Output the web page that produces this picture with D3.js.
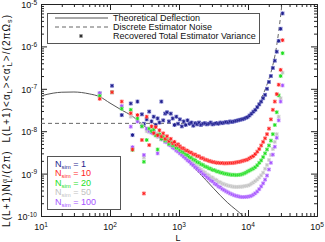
<!DOCTYPE html>
<html>
<head>
<meta charset="utf-8">
<script src="https://cdn.jsdelivr.net/npm/d3@7"></script>
<style>
  body { margin: 0; background: #fff; }
  text { font-family: "Liberation Sans", Arial, sans-serif; }
</style>
</head>
<body>
<div id="chart"></div>
<script>

// set the dimensions and margins of the graph
const MARGIN = {top: 4, right: 8, bottom: 26, left: 41},
    WIDTH = 325 - MARGIN.left - MARGIN.right,
    HEIGHT = 242 - MARGIN.top - MARGIN.bottom;

// multipole bins shared by all the recovered spectra
const L_BINS = [
  71, 107, 148, 200, 212, 250, 290, 310, 340, 370,
  400, 430, 460, 490, 520, 555, 590, 630, 670, 715,
  760, 810, 860, 915, 970, 1030, 1100, 1170, 1250, 1330,
  1420, 1510, 1610, 1720, 1830, 1950, 2080, 2220, 2370, 2530,
  2700, 2880, 3070, 3280, 3500, 3730, 3980, 4250, 4530, 4830,
  5150, 5500, 5870, 6260, 6680, 7130, 7610, 8120, 8660, 9240,
  9860, 10520, 11230, 11980, 12780, 13640, 14550, 15530, 16570, 17680,
  18870, 20130, 21480, 22920, 24460, 26100, 27850, 29710, 31700];

const N1 = [
  7.8e-8, 1.18e-7, 2.4e-8, 4.5e-8, 8.1e-9, 5.0e-8, 2.5e-8, 1.5e-8, 1.9e-8, 2.9e-8,
  1.7e-8, 2.2e-8, 1.4e-8, 2.0e-8, 1.6e-8, 5.0e-8, 1.8e-8, 2.6e-8, 2.8e-8, 1.7e-8,
  2.6e-8, 2.0e-8, 1.4e-8, 2.2e-8, 1.5e-8, 1.9e-8, 1.3e-8, 1.7e-8, 1.4e-8, 1.8e-8,
  1.5e-8, 1.6e-8, 1.35e-8, 1.55e-8, 1.45e-8, 1.6e-8, 1.4e-8, 1.5e-8, 1.55e-8, 1.45e-8,
  1.5e-8, 1.6e-8, 1.45e-8, 1.5e-8, 1.55e-8, 1.5e-8, 1.6e-8, 1.55e-8, 1.6e-8, 1.65e-8,
  1.6e-8, 1.7e-8, 1.65e-8, 1.7e-8, 1.75e-8, 1.8e-8, 1.85e-8, 1.9e-8, 1.95e-8, 2.05e-8,
  2.15e-8, 2.35e-8, 2.6e-8, 2.9e-8, 3.2e-8, 3.7e-8, 4.3e-8, 5.0e-8, 6.0e-8, 7.2e-8,
  1.0e-7, 1.45e-7, 2.0e-7, 3.1e-7, 4.6e-7, 7.5e-7, 1.35e-6, 2.6e-6, 6.0e-6];

const N10 = [
  5.8e-8, 8.3e-8, 5.0e-8, 2.65e-8, 3.7e-9, 2.4e-8, 6.2e-9, 3.4e-10, 2.2e-8, 4.7e-9,
  1.3e-8, 9.0e-9, 1.25e-8, 8.0e-9, 1.05e-8, 7.5e-9, 8.9e-9, 6.6e-9, 7.6e-9, 5.8e-9,
  6.6e-9, 5.2e-9, 5.6e-9, 4.7e-9, 4.9e-9, 4.4e-9, 4.0e-9, 3.9e-9, 3.55e-9, 3.45e-9,
  3.2e-9, 3.1e-9, 2.85e-9, 2.8e-9, 2.6e-9, 2.55e-9, 2.35e-9, 2.3e-9, 2.15e-9, 2.1e-9,
  2.0e-9, 1.95e-9, 1.88e-9, 1.85e-9, 1.8e-9, 1.8e-9, 1.76e-9, 1.78e-9, 1.74e-9, 1.76e-9,
  1.75e-9, 1.78e-9, 1.77e-9, 1.8e-9, 1.83e-9, 1.87e-9, 1.9e-9, 1.96e-9, 2.02e-9, 2.08e-9,
  2.15e-9, 2.3e-9, 2.45e-9, 2.6e-9, 2.9e-9, 3.3e-9, 3.8e-9, 4.6e-9, 5.6e-9, 6.8e-9,
  8.5e-9, 1.15e-8, 1.9e-8, 3.2e-8, 5.0e-8, 7.5e-8, 1.25e-7, 2.8e-7, 1.4e-6];

const N20 = [
  6.8e-8, 8.3e-8, 3.4e-8, 3.2e-8, 3.6e-9, 2.0e-8, 1.3e-8, 1.9e-9, 6.2e-9, 1.15e-8,
  1.0e-8, 1.1e-8, 8.0e-9, 3.7e-9, 8.5e-9, 6.6e-9, 7.4e-9, 6.0e-9, 6.3e-9, 5.0e-9,
  5.5e-9, 4.6e-9, 4.6e-9, 4.0e-9, 4.0e-9, 3.6e-9, 3.3e-9, 3.15e-9, 2.85e-9, 2.7e-9,
  2.45e-9, 2.35e-9, 2.15e-9, 2.05e-9, 1.88e-9, 1.8e-9, 1.66e-9, 1.6e-9, 1.48e-9, 1.43e-9,
  1.34e-9, 1.3e-9, 1.22e-9, 1.2e-9, 1.13e-9, 1.11e-9, 1.06e-9, 1.04e-9, 1.0e-9, 0.99e-9,
  0.96e-9, 0.95e-9, 0.93e-9, 0.94e-9, 0.92e-9, 0.93e-9, 0.94e-9, 0.96e-9, 1.0e-9, 1.05e-9,
  1.12e-9, 1.18e-9, 1.25e-9, 1.32e-9, 1.42e-9, 1.58e-9, 1.8e-9, 2.05e-9, 2.45e-9, 3.0e-9,
  3.7e-9, 4.6e-9, 6.0e-9, 8.5e-9, 1.4e-8, 2.8e-8, 7.0e-8, 2.0e-7, 6.9e-7];

const N50 = [
  6.8e-8, 8.3e-8, 3.9e-8, 2.2e-8, 4.0e-9, 1.9e-8, 1.4e-8, 2.4e-9, 1.0e-8, 9.5e-9,
  1.05e-8, 8.6e-9, 8.9e-9, 7.3e-9, 7.8e-9, 6.6e-9, 6.4e-9, 5.9e-9, 5.5e-9, 5.0e-9,
  4.8e-9, 4.3e-9, 4.1e-9, 3.7e-9, 3.5e-9, 3.2e-9, 2.95e-9, 2.65e-9, 2.45e-9, 2.2e-9,
  2.05e-9, 1.85e-9, 1.72e-9, 1.56e-9, 1.46e-9, 1.33e-9, 1.24e-9, 1.13e-9, 1.06e-9, 9.6e-10,
  9.1e-10, 8.3e-10, 8.0e-10, 7.3e-10, 7.0e-10, 6.4e-10, 6.2e-10, 5.8e-10, 5.6e-10, 5.4e-10,
  5.2e-10, 5.1e-10, 4.95e-10, 4.9e-10, 4.85e-10, 4.85e-10, 4.9e-10, 4.9e-10, 5.0e-10, 5.1e-10,
  5.2e-10, 5.4e-10, 5.8e-10, 6.2e-10, 6.7e-10, 7.3e-10, 8.1e-10, 9.1e-10, 1.05e-9, 1.3e-9,
  1.6e-9, 2.1e-9, 2.75e-9, 3.8e-9, 5.6e-9, 8.5e-9, 2.2e-8, 6.0e-8, 2.4e-7];

const N100 = [
  7.8e-8, 8.3e-8, 3.9e-8, 1.28e-8, 4.2e-9, 1.7e-8, 1.3e-8, 2.75e-9, 1.15e-8, 1.0e-8,
  9.2e-9, 9.8e-9, 8.0e-9, 3.0e-9, 7.6e-9, 6.4e-9, 6.5e-9, 5.6e-9, 5.5e-9, 4.8e-9,
  4.6e-9, 4.1e-9, 3.9e-9, 3.5e-9, 3.3e-9, 3.0e-9, 2.75e-9, 2.5e-9, 2.28e-9, 2.05e-9,
  1.9e-9, 1.7e-9, 1.57e-9, 1.41e-9, 1.31e-9, 1.18e-9, 1.09e-9, 9.8e-10, 9.1e-10, 8.2e-10,
  7.6e-10, 6.9e-10, 6.5e-10, 5.8e-10, 5.45e-10, 4.95e-10, 4.7e-10, 4.3e-10, 4.05e-10, 3.8e-10,
  3.6e-10, 3.4e-10, 3.25e-10, 3.1e-10, 3.0e-10, 2.92e-10, 2.85e-10, 2.8e-10, 2.8e-10, 2.82e-10,
  2.85e-10, 2.9e-10, 3.0e-10, 3.2e-10, 3.45e-10, 3.8e-10, 4.3e-10, 5.0e-10, 5.9e-10, 7.2e-10,
  9.0e-10, 1.25e-9, 1.8e-9, 2.8e-9, 4.3e-9, 7.0e-9, 1.8e-8, 5.0e-8, 1.2e-7];

// theoretical deflection spectrum (solid line)
const THEORY_L = [10, 15, 20, 30, 50, 71, 100, 150, 200, 300, 500, 1000, 2000, 5000, 8500, 12000];
const THEORY_C = [6.8e-8, 7.9e-8, 8.3e-8, 8.4e-8, 7.6e-8, 6.5e-8, 4.6e-8, 3.1e-8, 2.4e-8, 1.4e-8,
                  7.4e-9, 3.1e-9, 1.0e-9, 2.1e-10, 1.0e-10, 5.6e-11];

// discrete estimator noise (dashed line)
const NOISE_L = [10, 3000, 6000, 8000, 10000, 13000, 16000, 19000, 22000, 25000, 28000, 31000, 33000];
const NOISE_C = [1.53e-8, 1.53e-8, 1.65e-8, 1.85e-8, 2.2e-8, 3.4e-8, 6.5e-8, 1.3e-7, 2.8e-7, 7e-7, 2.4e-6, 1.0e-5, 3e-5];

const X_TICKS = [1e1, 1e2, 1e3, 1e4, 1e5];
const X_EXP = ["1", "2", "3", "4", "5"];
const Y_TICKS = [1e-10, 1e-9, 1e-8, 1e-7, 1e-6, 1e-5];
const Y_EXP = ["-10", "-9", "-8", "-7", "-6", "-5"];

const SIMS = ["1", "10", "20", "50", "100"];
const SIM_COLORS = ["#1e1e8c", "#ff1f1f", "#1ee01e", "#c2c2c2", "#a552ff"];
const SIM_HALOS = ["#7a7ad0", "#ff9a9a", "#9af09a", "#e2e2e2", "#d6b0ff"];
const SIM_VALUES = [N1, N10, N20, N50, N100];
const DRAW_ORDER = [0, 3, 4, 2, 1];

const svg = d3.select("#chart")
  .append("svg")
    .attr("width", WIDTH + MARGIN.left + MARGIN.right)
    .attr("height", HEIGHT + MARGIN.top + MARGIN.bottom)
  .append("g")
    .attr("transform", "translate(" + MARGIN.left + "," + MARGIN.top + ")");

const x = d3.scaleLog().domain([10, 1e5]).range([0, WIDTH]);
const y = d3.scaleLog().domain([1e-10, 1e-5]).range([HEIGHT, 0]);

svg.append("clipPath").attr("id", "plotclip")
  .append("rect").attr("width", WIDTH).attr("height", HEIGHT);

// minor ticks at 2..9 of each decade
const minorOf = (lo, hi) => {
  const out = [];
  for (let p = lo; p < hi; p++) {
    for (let m = 2; m <= 9; m++) out.push(m * Math.pow(10, p));
  }
  return out;
};
const xMinor = minorOf(1, 5);
const yMinor = minorOf(-10, -5);

const axisColor = "#222";
function drawAxis(gen, transform) {
  const g = svg.append("g").attr("transform", transform).call(gen);
  g.selectAll("path, line").attr("stroke", axisColor);
  g.selectAll("text").remove();
  return g;
}
drawAxis(d3.axisBottom(x).tickValues(X_TICKS).tickSizeInner(-6).tickSizeOuter(0), "translate(0," + HEIGHT + ")");
drawAxis(d3.axisBottom(x).tickValues(xMinor).tickSizeInner(-3).tickSizeOuter(0), "translate(0," + HEIGHT + ")");
drawAxis(d3.axisTop(x).tickValues(X_TICKS).tickSizeInner(-6).tickSizeOuter(0), "translate(0,0)");
drawAxis(d3.axisTop(x).tickValues(xMinor).tickSizeInner(-3).tickSizeOuter(0), "translate(0,0)");
drawAxis(d3.axisLeft(y).tickValues(Y_TICKS).tickSizeInner(-6).tickSizeOuter(0), "translate(0,0)");
drawAxis(d3.axisLeft(y).tickValues(yMinor).tickSizeInner(-3).tickSizeOuter(0), "translate(0,0)");
drawAxis(d3.axisRight(y).tickValues(Y_TICKS).tickSizeInner(-6).tickSizeOuter(0), "translate(" + WIDTH + ",0)");
drawAxis(d3.axisRight(y).tickValues(yMinor).tickSizeInner(-3).tickSizeOuter(0), "translate(" + WIDTH + ",0)");

// text with super/subscripts
function rich(sel, parts, small) {
  let shift = 0;
  parts.forEach(p => {
    const target = p.s === "sup" ? -3.5 : (p.s === "sub" ? 2.2 : 0);
    const t = sel.append("tspan").attr("dy", target - shift).text(p.t);
    if (p.dx) t.attr("dx", p.dx);
    if (p.s) t.style("font-size", small + "px");
    shift = target;
  });
}

// tick labels
X_TICKS.forEach((v, i) => {
  const t = svg.append("text")
    .attr("x", x(v)).attr("y", HEIGHT + 14)
    .attr("text-anchor", "middle")
    .style("font-size", "9px").attr("fill", "#111");
  rich(t, [{t: "10"}, {t: X_EXP[i], s: "sup"}], 6.5);
});
Y_TICKS.forEach((v, i) => {
  const t = svg.append("text")
    .attr("x", -4).attr("y", y(v) + 4)
    .attr("text-anchor", "end")
    .style("font-size", "9px").attr("fill", "#111");
  rich(t, [{t: "10"}, {t: Y_EXP[i], s: "sup"}], 6.5);
});

// axis titles
svg.append("text")
  .attr("x", x(1000) - 1).attr("y", HEIGHT + 25)
  .attr("text-anchor", "middle")
  .style("font-size", "9px").attr("fill", "#111")
  .text("L");

const yTitle = svg.append("text")
  .attr("transform", "translate(" + (10 - MARGIN.left) + "," + (121 - MARGIN.top) + ") rotate(-90)")
  .attr("text-anchor", "middle")
  .attr("textLength", 212)
  .attr("lengthAdjust", "spacing")
  .style("font-size", "10px").attr("fill", "#111");
rich(yTitle, [
  {t: "L(L+1)N"}, {t: "α", s: "sup"}, {t: "L", s: "sub", dx: -4.5},
  {t: "/(2π)\u00a0\u00a0L(L+1)<α"}, {t: "L", s: "sub"}, {t: "><α"},
  {t: "*", s: "sup"}, {t: "L", s: "sub", dx: -2.5}, {t: ">/(2πΩ"}, {t: "s", s: "sub"}, {t: ")"}
], 7);

const plot = svg.append("g").attr("clip-path", "url(#plotclip)");

// theory and noise curves
const line = d3.line()
  .x(d => x(d[0]))
  .y(d => y(d[1]))
  .curve(d3.curveMonotoneX);

plot.append("path")
  .datum(NOISE_L.map((l, i) => [l, NOISE_C[i]]))
  .attr("d", line)
  .attr("fill", "none")
  .attr("stroke", "#666")
  .attr("stroke-width", 1)
  .attr("stroke-dasharray", "4,3");

plot.append("path")
  .datum(THEORY_L.map((l, i) => [l, THEORY_C[i]]))
  .attr("d", line)
  .attr("fill", "none")
  .attr("stroke", "#555")
  .attr("stroke-width", 1);

// recovered estimator variance points
const star = d3.symbol().type(d3.symbolAsterisk).size(8);

DRAW_ORDER.forEach(k => {
  const pts = L_BINS.map((l, i) => ({l: l, v: SIM_VALUES[k][i]}));
  const g = plot.append("g");
  const pt = g.selectAll(".pt")
    .data(pts)
    .join("g")
      .attr("class", "pt")
      .attr("transform", d => "translate(" + x(d.l) + "," + y(d.v) + ")");
  pt.append("rect")
    .attr("x", -2).attr("y", -2).attr("width", 4).attr("height", 4)
    .attr("fill", SIM_HALOS[k]).attr("opacity", 0.7);
  pt.append("path")
    .attr("d", star)
    .attr("fill", "none")
    .attr("stroke", SIM_COLORS[k])
    .attr("stroke-width", 1);
});

// legend: curves
const leg1 = svg.append("g").attr("transform", "translate(" + (47 - MARGIN.left) + "," + (13 - MARGIN.top) + ")");
leg1.append("rect")
  .attr("x", 0.5).attr("y", 0.5).attr("width", 212).attr("height", 30)
  .attr("fill", "#fff").attr("stroke", "#555");
const legItems = ["Theoretical Deflection", "Discrete Estimator Noise", "Recovered Total Estimator Variance"];
legItems.forEach((txt, i) => {
  const yy = 5 + i * 9;
  if (i === 0) {
    leg1.append("line").attr("x1", 8).attr("x2", 61).attr("y1", yy).attr("y2", yy)
      .attr("stroke", "#555");
  } else if (i === 1) {
    leg1.append("line").attr("x1", 8).attr("x2", 61).attr("y1", yy).attr("y2", yy)
      .attr("stroke", "#666").attr("stroke-dasharray", "4,3");
  } else {
    leg1.append("rect").attr("x", 32).attr("y", yy - 2).attr("width", 4).attr("height", 4)
      .attr("fill", "#bbb").attr("opacity", 0.6);
    leg1.append("path").attr("transform", "translate(34," + yy + ")")
      .attr("d", star).attr("fill", "none").attr("stroke", "#222").attr("stroke-width", 1);
  }
  leg1.append("text")
    .attr("x", 66).attr("y", yy + 3.2)
    .style("font-size", "9px").attr("fill", "#111")
    .text(txt);
});

// legend: number of simulations
const leg2 = svg.append("g").attr("transform", "translate(" + (47 - MARGIN.left) + "," + (156 - MARGIN.top) + ")");
leg2.append("rect")
  .attr("x", 0.5).attr("y", 0.5).attr("width", 73).attr("height", 53)
  .attr("fill", "#fff").attr("stroke", "#555");
SIMS.forEach((n, i) => {
  const t = leg2.append("text")
    .attr("x", 8).attr("y", 10.5 + i * 9.5)
    .style("font-size", "9px").attr("fill", SIM_COLORS[i]);
  rich(t, [{t: "N"}, {t: "sim", s: "sub"}, {t: " = " + n}], 6);
});

</script>
</body>
</html>
